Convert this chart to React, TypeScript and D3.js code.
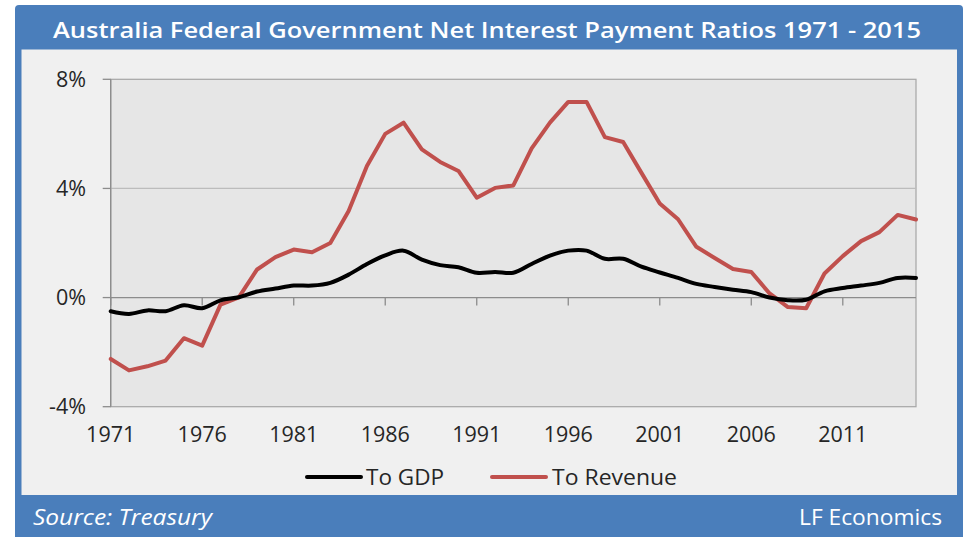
import React from "react";
import * as d3 from "d3";

const years: number[] = d3.range(1971, 2016);
const gdpRatio: number[] = [
  -0.5, -0.6, -0.47, -0.5, -0.28, -0.39, -0.1, 0.01, 0.22, 0.33,
  0.44, 0.44, 0.54, 0.84, 1.23, 1.55, 1.72, 1.39, 1.19, 1.11,
  0.91, 0.94, 0.91, 1.23, 1.54, 1.72, 1.72, 1.42, 1.42, 1.13,
  0.92, 0.72, 0.5, 0.39, 0.29, 0.2, 0.0, -0.1, -0.08, 0.23,
  0.35, 0.44, 0.54, 0.72, 0.72,
];
const revenueRatio: number[] = [
  -2.25, -2.67, -2.52, -2.31, -1.49, -1.76, -0.26, 0.01, 1.03, 1.48,
  1.76, 1.66, 2.0, 3.17, 4.82, 6.0, 6.41, 5.43, 4.97, 4.64,
  3.66, 4.02, 4.11, 5.47, 6.41, 7.17, 7.17, 5.88, 5.7, 4.57,
  3.45, 2.87, 1.86, 1.45, 1.05, 0.94, 0.15, -0.35, -0.39, 0.88,
  1.52, 2.07, 2.4, 3.03, 2.86,
];
const yTicks: number[] = [-4, 0, 4, 8];
const xTickYears: number[] = [1971, 1976, 1981, 1986, 1991, 1996, 2001, 2006, 2011];
const seriesNames: string[] = ["To GDP", "To Revenue"];
const titleText = "Australia Federal Government Net Interest Payment Ratios 1971 - 2015";
const sourceText = "Source: Treasury";
const brandText = "LF Economics";

const W = 964;
const H = 537;
const plot = { left: 110.7, right: 916, top: 79.3, bottom: 406.7 };
const BLUE = "#4a7ebb";
const RED = "#c0504d";
const FONT = "'Open Sans', 'DejaVu Sans', sans-serif";

export default function App() {
  const x = d3.scaleLinear().domain([1971, 2015]).range([plot.left, plot.right]);
  const y = d3.scaleLinear().domain([-4, 8]).range([plot.bottom, plot.top]);

  const gdpLine = d3
    .line<number>()
    .x((_, i) => x(years[i]))
    .y((d) => y(d))
    .curve(d3.curveCatmullRom.alpha(0.5));
  const revLine = d3
    .line<number>()
    .x((_, i) => x(years[i]))
    .y((d) => y(d))
    .curve(d3.curveLinear);

  const y0 = y(0);

  return (
    <svg
      width={W}
      height={H}
      viewBox={`0 0 ${W} ${H}`}
      style={{ position: "absolute", left: 0, top: 0, display: "block" }}
      fontFamily={FONT}
    >
      <rect x={0} y={0} width={W} height={H} fill="#ffffff" />
      {/* blue frame */}
      <rect x={15} y={5} width={948} height={545} rx={4} fill={BLUE} />
      {/* inner panel */}
      <rect x={21.5} y={49.5} width={935.5} height={445.5} fill="#f0f0f0" />
      {/* title */}
      <text
        x={487}
        y={37.5}
        textAnchor="middle"
        fill="#ffffff"
        fontSize={22}
        fontWeight={600}
        textLength={868}
        lengthAdjust="spacingAndGlyphs"
      >
        {titleText}
      </text>

      {/* plot area */}
      <rect
        x={plot.left}
        y={plot.top}
        width={plot.right - plot.left}
        height={plot.bottom - plot.top}
        fill="#e6e6e6"
        stroke="#a6a6a6"
        strokeWidth={1.2}
      />
      {/* gridlines */}
      {yTicks
        .filter((t) => t !== 0 && t !== -4 && t !== 8)
        .map((t) => (
          <line
            key={"g" + t}
            x1={plot.left}
            x2={plot.right}
            y1={y(t)}
            y2={y(t)}
            stroke="#bcbcbc"
            strokeWidth={1.2}
          />
        ))}
      {/* y axis */}
      <line x1={plot.left} x2={plot.left} y1={plot.top} y2={plot.bottom} stroke="#8c8c8c" strokeWidth={1.3} />
      {yTicks.map((t) => (
        <g key={"y" + t}>
          <line x1={plot.left - 8} x2={plot.left} y1={y(t)} y2={y(t)} stroke="#8c8c8c" strokeWidth={1.3} />
          <text x={86} y={y(t) + 7.5} textAnchor="end" fontSize={21.5} fill="#262626">
            {`${t}%`}
          </text>
        </g>
      ))}
      {/* x axis at 0 */}
      <line x1={plot.left} x2={plot.right} y1={y0} y2={y0} stroke="#8c8c8c" strokeWidth={1.3} />
      {xTickYears.map((yr) => (
        <g key={"x" + yr}>
          <line x1={x(yr)} x2={x(yr)} y1={y0} y2={y0 + 8} stroke="#8c8c8c" strokeWidth={1.3} />
          <text x={x(yr)} y={441.5} textAnchor="middle" fontSize={21.5} fill="#262626">
            {String(yr)}
          </text>
        </g>
      ))}

      {/* series */}
      <path
        d={revLine(revenueRatio) || ""}
        fill="none"
        stroke={RED}
        strokeWidth={4}
        strokeLinejoin="round"
        strokeLinecap="round"
      />
      <path
        d={gdpLine(gdpRatio) || ""}
        fill="none"
        stroke="#000000"
        strokeWidth={4}
        strokeLinejoin="round"
        strokeLinecap="round"
      />

      {/* legend */}
      <line x1={307} x2={361} y1={477} y2={477} stroke="#000000" strokeWidth={4} strokeLinecap="round" />
      <text x={366} y={484.5} fontSize={22} fill="#262626" textLength={78} lengthAdjust="spacingAndGlyphs">
        {seriesNames[0]}
      </text>
      <line x1={492} x2={546} y1={477} y2={477} stroke={RED} strokeWidth={4} strokeLinecap="round" />
      <text x={552} y={484.5} fontSize={22} fill="#262626" textLength={125} lengthAdjust="spacingAndGlyphs">
        {seriesNames[1]}
      </text>

      {/* footer */}
      <text
        x={33}
        y={525}
        fontSize={21}
        fontStyle="italic"
        fill="#ffffff"
        textLength={179}
        lengthAdjust="spacingAndGlyphs"
      >
        {sourceText}
      </text>
      <text
        x={942}
        y={525}
        fontSize={21}
        textAnchor="end"
        fill="#ffffff"
        textLength={143}
        lengthAdjust="spacingAndGlyphs"
      >
        {brandText}
      </text>
    </svg>
  );
}
